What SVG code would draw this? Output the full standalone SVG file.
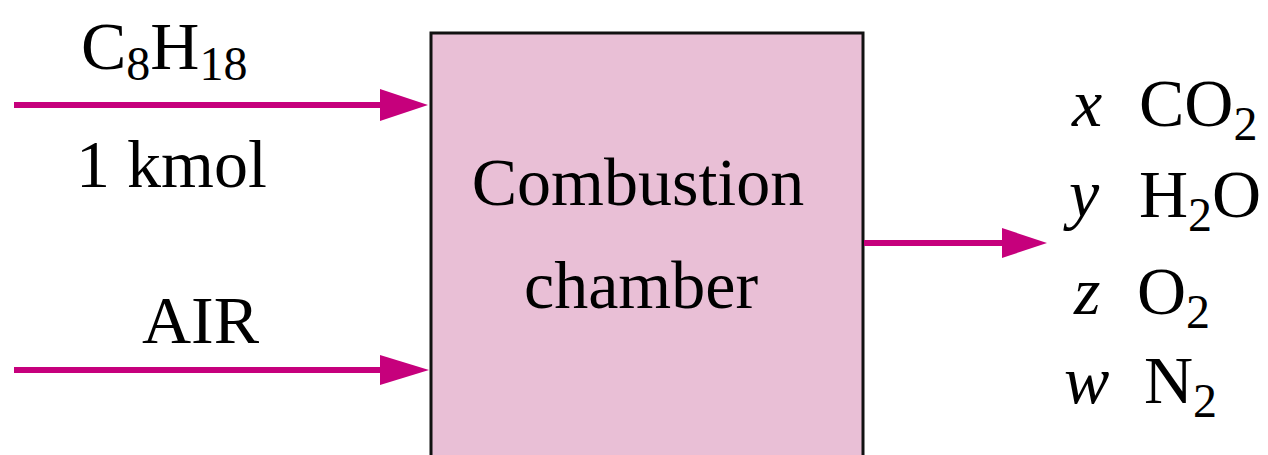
<svg xmlns="http://www.w3.org/2000/svg" width="1268" height="455" viewBox="0 0 1268 455">
<style>
.t{font-family:"Liberation Serif","Times New Roman",serif;font-size:68px;fill:#000}
.i{font-style:italic}
.sub{font-size:48px}
.ln{stroke:#c6007c;stroke-width:6;fill:none}
.hd{fill:#c6007c}
</style>
<rect width="1268" height="455" fill="#ffffff"/>
<g id="chamber">
<rect x="431" y="33" width="432" height="430" fill="#e9bfd6" stroke="#111" stroke-width="3"/>
<text class="t" x="638" y="205" text-anchor="middle">Combustion</text>
<text class="t" x="641" y="308" text-anchor="middle">chamber</text>
</g>
<g id="fuel">
<text class="t" x="81" y="69">C<tspan class="sub" dy="11">8</tspan><tspan dy="-11">H</tspan><tspan class="sub" dy="11">18</tspan></text>
<text class="t" x="76" y="187">1 kmol</text>
</g>
<g id="air">
<text class="t" x="142" y="343">AIR</text>
</g>
<g id="products">
<text class="t i" x="1072" y="126">x</text>
<text class="t" x="1139" y="126">CO<tspan class="sub" dy="14">2</tspan></text>
<text class="t i" x="1069" y="217">y</text>
<text class="t" x="1139" y="217">H<tspan class="sub" dy="14">2</tspan><tspan dy="-14">O</tspan></text>
<text class="t i" x="1074" y="314">z</text>
<text class="t" x="1137" y="314">O<tspan class="sub" dy="14">2</tspan></text>
<text class="t i" x="1064" y="403">w</text>
<text class="t" x="1144" y="403">N<tspan class="sub" dy="14">2</tspan></text>
</g>
<g id="connectors">
<line class="ln" x1="14" y1="105" x2="384" y2="105"/>
<polygon class="hd" points="380,89 428,105 380,121"/>
<line class="ln" x1="14" y1="370" x2="384" y2="370"/>
<polygon class="hd" points="380,355 429,370 380,385"/>
<line class="ln" x1="864" y1="243" x2="1006" y2="243"/>
<polygon class="hd" points="1002,228 1047,243 1002,258"/>
</g>
</svg>
